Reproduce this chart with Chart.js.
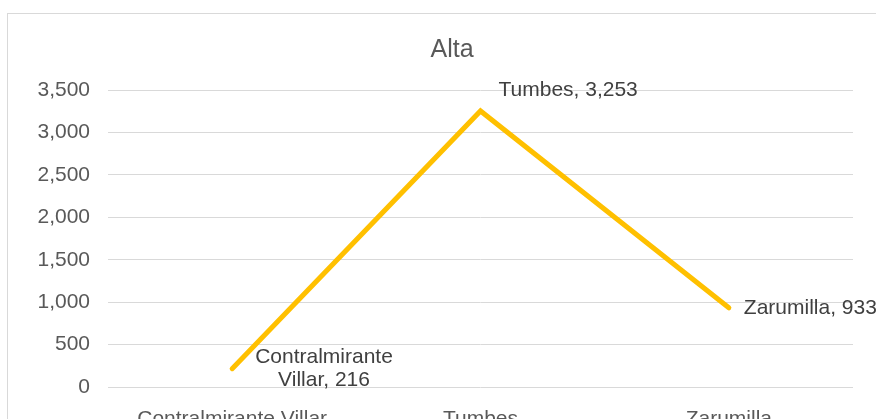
<!DOCTYPE html>
<html>
<head>
<meta charset="utf-8">
<script src="https://cdn.jsdelivr.net/npm/chart.js@4"></script>
<style>
  body { margin: 0; background: #fff; overflow: hidden; }
  #wrap { position: relative; width: 876px; height: 419px; }
  #frame { position: absolute; left: 7px; top: 13px; width: 920px; height: 500px; border: 1px solid #d9d9d9; }
  canvas { position: absolute; left: 0; top: 0; }
</style>
</head>
<body>
<div id="wrap">
  <div id="frame"></div>
  <canvas id="chart" width="876" height="419"></canvas>
</div>
<script>
// datos
var categorias = ['Contralmirante Villar', 'Tumbes', 'Zarumilla'];
var valores = [216, 3253, 933];
var etiquetas = [['Contralmirante', 'Villar, 216'], ['Tumbes, 3,253'], ['Zarumilla, 933']];
var ticksY = [0, 500, 1000, 1500, 2000, 2500, 3000, 3500];
var titulo = 'Alta';

// desplazamiento de cada etiqueta respecto al punto
var etiquetaDx = [23, 18, 15];
var etiquetaDy = [0, -21, 0];

var fuente = '"Liberation Sans", Arial, sans-serif';

// el titulo va centrado sobre todo el marco del grafico, no solo el canvas
var tituloPlugin = {
    id: 'titulo',
    afterDraw(chart) {
        var ctx = chart.ctx;
        ctx.save();
        ctx.font = '25px ' + fuente;
        ctx.fillStyle = '#595959';
        ctx.textAlign = 'center';
        ctx.textBaseline = 'middle';
        ctx.fillText(titulo, 452, 50);
        ctx.restore();
    }
};

var etiquetasPlugin = {
    id: 'etiquetas',
    afterDatasetsDraw(chart) {
        var ctx = chart.ctx;
        var meta = chart.getDatasetMeta(0);
        ctx.save();
        ctx.font = '21px ' + fuente;
        ctx.fillStyle = '#404040';
        ctx.textBaseline = 'middle';
        ctx.textAlign = 'center';
        meta.data.forEach((p, i) => {
            var lineas = etiquetas[i];
            var anchos = lineas.map(l => ctx.measureText(l).width);
            var maxW = Math.max.apply(null, anchos);
            var cx = p.x + etiquetaDx[i] + maxW / 2;
            var alto = 23;
            var y0 = p.y + etiquetaDy[i] - (lineas.length - 1) * alto / 2;
            lineas.forEach((l, k) => ctx.fillText(l, cx, y0 + k * alto));
        });
        ctx.restore();
    }
};

var ctx = document.getElementById('chart').getContext('2d');
new Chart(ctx, {
    type: 'line',
    data: {
        labels: categorias,
        datasets: [{
            data: valores,
            borderColor: '#FFC000',
            borderWidth: 5,
            pointRadius: 0,
            tension: 0,
            borderCapStyle: 'round',
            borderJoinStyle: 'miter'
        }]
    },
    options: {
        responsive: false,
        animation: false,
        layout: { padding: { left: 0, right: 23, top: 90, bottom: 0 } },
        plugins: {
            legend: { display: false },
            tooltip: { enabled: false },
            title: { display: false }
        },
        scales: {
            x: {
                offset: true,
                grid: { display: false },
                border: { display: false },
                ticks: {
                    color: '#595959',
                    font: { family: fuente, size: 21 },
                    padding: 12,
                    maxRotation: 0,
                    autoSkip: false
                },
                afterFit(scale) { scale.height = 32; }
            },
            y: {
                min: 0,
                max: 3500,
                afterBuildTicks(scale) { scale.ticks = ticksY.map(v => ({ value: v })); },
                grid: { color: '#d9d9d9', lineWidth: 1, drawTicks: false },
                border: { display: false },
                ticks: {
                    color: '#595959',
                    font: { family: fuente, size: 21 },
                    padding: 18,
                    callback: v => v.toLocaleString('en-US')
                },
                afterFit(scale) { scale.width = 108; }
            }
        }
    },
    plugins: [etiquetasPlugin, tituloPlugin]
});
</script>
</body>
</html>
